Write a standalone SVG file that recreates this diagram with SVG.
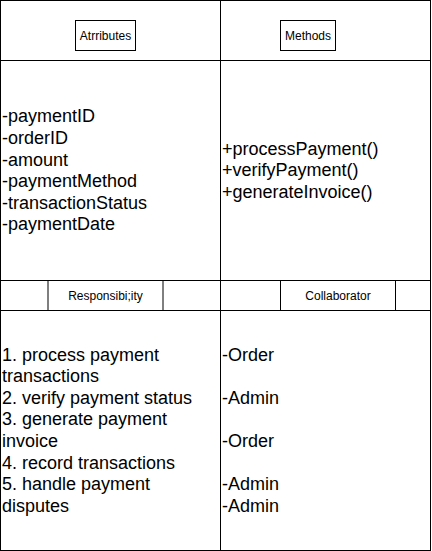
<svg xmlns="http://www.w3.org/2000/svg" width="432" height="551" viewBox="0 0 432 551">
<style>
.cell{fill:#fff;stroke:#000;stroke-width:1}
.lbl{font-family:"Liberation Sans",Arial,sans-serif;font-size:12px;fill:#000;text-anchor:middle;dominant-baseline:central}
.body{font-family:"Liberation Sans",Arial,sans-serif;font-size:18px;fill:#000}
</style>
<rect width="432" height="551" fill="#fff"/>
<g id="table">
<rect class="cell" x="0.5" y="0.5" width="220" height="60"/>
<rect class="cell" x="220.5" y="0.5" width="210" height="60"/>
<rect class="cell" x="0.5" y="60.5" width="220" height="220"/>
<rect class="cell" x="220.5" y="60.5" width="210" height="220"/>
<rect class="cell" x="0.5" y="280.5" width="220" height="30"/>
<rect class="cell" x="220.5" y="280.5" width="210" height="30"/>
<rect class="cell" x="0.5" y="310.5" width="220" height="240"/>
<rect class="cell" x="220.5" y="310.5" width="210" height="240"/>
</g>
<g id="attributes-header">
<rect class="cell" x="75.5" y="20.5" width="60" height="30"/>
<text class="lbl" x="105.5" y="35.5">Atrributes</text>
</g>
<g id="methods-header">
<rect class="cell" x="280.5" y="20.5" width="55" height="30"/>
<text class="lbl" x="308" y="35.5">Methods</text>
</g>
<g id="responsibility-header">
<rect class="cell" x="48" y="280.5" width="115" height="30"/>
<text class="lbl" x="105.5" y="295.5">Responsibi;ity</text>
</g>
<g id="collaborator-header">
<rect class="cell" x="280.5" y="280.5" width="115" height="30"/>
<text class="lbl" x="338" y="295.5">Collaborator</text>
</g>
<g id="attributes">
<text class="body" x="2" y="122.3">-paymentID</text>
<text class="body" x="2" y="143.9">-orderID</text>
<text class="body" x="2" y="165.5">-amount</text>
<text class="body" x="2" y="187.1">-paymentMethod</text>
<text class="body" x="2" y="208.7">-transactionStatus</text>
<text class="body" x="2" y="230.3">-paymentDate</text>
</g>
<g id="methods">
<text class="body" x="222" y="154.7">+processPayment()</text>
<text class="body" x="222" y="176.3">+verifyPayment()</text>
<text class="body" x="222" y="197.9">+generateInvoice()</text>
</g>
<g id="responsibilities">
<text class="body" x="2" y="360.5">1. process payment</text>
<text class="body" x="2" y="382.1">transactions</text>
<text class="body" x="2" y="403.7">2. verify payment status</text>
<text class="body" x="2" y="425.3">3. generate payment</text>
<text class="body" x="2" y="446.9">invoice</text>
<text class="body" x="2" y="468.5">4. record transactions</text>
<text class="body" x="2" y="490.1">5. handle payment</text>
<text class="body" x="2" y="511.7">disputes</text>
</g>
<g id="collaborators">
<text class="body" x="222" y="360.5">-Order</text>
<text class="body" x="222" y="403.7">-Admin</text>
<text class="body" x="222" y="446.9">-Order</text>
<text class="body" x="222" y="490.1">-Admin</text>
<text class="body" x="222" y="511.7">-Admin</text>
</g>
<g id="connectors"/>
</svg>
